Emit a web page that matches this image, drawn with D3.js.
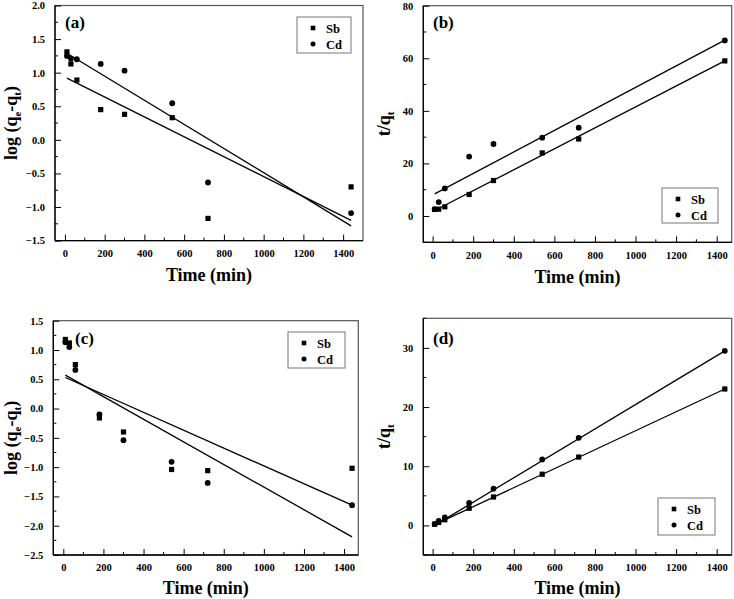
<!DOCTYPE html>
<html>
<head>
<meta charset="utf-8">
<script src="https://cdn.jsdelivr.net/npm/d3@7"></script>
<style>
  html, body { margin: 0; padding: 0; background: #fff; }
  svg { display: block; font-family: "Liberation Serif", "Times New Roman", "DejaVu Serif", serif; font-weight: bold; }
</style>
</head>
<body>
<svg id="chart" width="734" height="599"></svg>
<script>
// ---------- data ----------
const times = [10, 30, 60, 180, 300, 540, 720, 1440];
const seriesNames = ["Sb", "Cd"];

// (a) pseudo-first-order, log(qe-qt)
const aSb = [1.31, 1.13, 0.89, 0.45, 0.38, 0.33, -1.17, -0.70];
const aCd = [1.25, 1.21, 1.20, 1.13, 1.03, 0.545, -0.635, -1.09];
const aFitSb = [0.92, -1.20];   // fitted values at t=10 and t=1440
const aFitCd = [1.29, -1.28];

// (b) pseudo-second-order, t/qt
const bSb = [2.5, 2.6, 3.5, 8.2, 13.5, 24.0, 29.3, 59.0];
const bCd = [2.6, 5.3, 10.5, 22.6, 27.4, 29.8, 33.6, 66.8];
const bFitSb = [2.1, 59.0];
const bFitCd = [8.4, 66.9];

// (c) pseudo-first-order, log(qe-qt)
const cSb = [1.18, 1.12, 0.75, -0.16, -0.40, -1.04, -1.06, -1.02];
const cCd = [1.13, 1.05, 0.66, -0.10, -0.54, -0.91, -1.27, -1.65];
const cFitSb = [0.53, -1.65];
const cFitCd = [0.57, -2.19];

// (d) pseudo-second-order, t/qt
const dSb = [0.2, 0.5, 0.95, 2.9, 4.8, 8.65, 11.55, 23.05];
const dCd = [0.25, 0.75, 1.35, 3.8, 6.2, 11.15, 14.8, 29.5];
const dFitSb = [0.12, 23.05];
const dFitCd = [0.0, 29.5];

const xTicks = [0, 200, 400, 600, 800, 1000, 1200, 1400];
const fitTimes = [10, 1440];

const panels = [
  { label: "(a)", rect: [55, 5.5, 363, 240.6], xDom: [-50, 1500], yDom: [-1.5, 2.0],
    yTicks: [-1.5, -1.0, -0.5, 0.0, 0.5, 1.0, 1.5, 2.0], yMinor: 0.25, yFmt: ".1f",
    sb: aSb, cd: aCd, fitSb: aFitSb, fitCd: aFitCd, ytitle: "log",
    labelPos: [65, 28], legend: [297, 17, 54, 36], xTitleY: 281, yTitleX: 17 },
  { label: "(b)", rect: [423.3, 5.7, 731.7, 242.3], xDom: [-46, 1474], yDom: [-10, 80],
    yTicks: [0, 20, 40, 60, 80], yMinor: 10, yFmt: "d",
    sb: bSb, cd: bCd, fitSb: bFitSb, fitCd: bFitCd, ytitle: "t",
    labelPos: [433, 28], legend: [662, 188, 56, 35], xTitleY: 283, yTitleX: 390 },
  { label: "(c)", rect: [53.3, 320.7, 358.3, 555], xDom: [-50, 1471], yDom: [-2.5, 1.5],
    yTicks: [-2.5, -2.0, -1.5, -1.0, -0.5, 0.0, 0.5, 1.0, 1.5], yMinor: 0.25, yFmt: ".1f",
    sb: cSb, cd: cCd, fitSb: cFitSb, fitCd: cFitCd, ytitle: "log",
    labelPos: [75, 344], legend: [288, 332, 57, 36], xTitleY: 594, yTitleX: 17 },
  { label: "(d)", rect: [423.3, 318.3, 731.7, 555], xDom: [-46, 1474], yDom: [-5, 35],
    yTicks: [0, 10, 20, 30], yMinor: 5, yFmt: "d",
    sb: dSb, cd: dCd, fitSb: dFitSb, fitCd: dFitCd, ytitle: "t",
    labelPos: [433, 344], legend: [658, 498, 57, 37], xTitleY: 594, yTitleX: 390 }
];

const FONT = "'Liberation Serif', 'Times New Roman', 'DejaVu Serif', serif";
const svg = d3.select("#chart");

panels.forEach(p => {
  const [x0, y0, x1, y1] = p.rect;
  const x = d3.scaleLinear().domain(p.xDom).range([x0, x1]);
  const y = d3.scaleLinear().domain(p.yDom).range([y1, y0]);
  const g = svg.append("g").attr("font-family", FONT).attr("font-weight", "bold");

  // frame (top/right grey)
  g.append("rect").attr("x", x0).attr("y", y0).attr("width", x1 - x0).attr("height", y1 - y0)
    .attr("fill", "none").attr("stroke", "#555").attr("stroke-width", 1.2);

  // minor ticks
  const xMinor = d3.range(100, 1500, 200);
  g.append("g").selectAll("line").data(xMinor).join("line")
    .attr("x1", d => x(d)).attr("x2", d => x(d)).attr("y1", y1).attr("y2", y1 - 3)
    .attr("stroke", "#000").attr("stroke-width", 1);
  const yMinorVals = d3.range(p.yDom[0], p.yDom[1] + 1e-9, p.yMinor)
    .filter(v => !p.yTicks.some(t => Math.abs(t - v) < 1e-9));
  g.append("g").selectAll("line").data(yMinorVals).join("line")
    .attr("x1", x0).attr("x2", x0 + 3).attr("y1", d => y(d)).attr("y2", d => y(d))
    .attr("stroke", "#000").attr("stroke-width", 1);

  // axes
  const xAxis = d3.axisBottom(x).tickValues(xTicks).tickFormat(d3.format("d"))
    .tickSizeInner(-6).tickSizeOuter(0).tickPadding(9);
  const gx = g.append("g").attr("transform", `translate(0,${y1})`).call(xAxis);
  const yAxis = d3.axisLeft(y).tickValues(p.yTicks).tickFormat(d3.format(p.yFmt))
    .tickSizeInner(-6).tickSizeOuter(0).tickPadding(10);
  const gy = g.append("g").attr("transform", `translate(${x0},0)`).call(yAxis);
  [gx, gy].forEach(a => {
    a.attr("font-family", FONT).attr("font-size", 10.5);
    a.select(".domain").attr("stroke", "#000").attr("stroke-width", 1.3);
    a.selectAll(".tick line").attr("stroke", "#000").attr("stroke-width", 1);
    a.selectAll("text").attr("font-family", FONT)
      .attr("font-weight", "bold").attr("font-size", 10.5).attr("fill", "#000");
  });
  gx.select(".domain").attr("d", `M${x0},0H${x1}`);
  gy.select(".domain").attr("d", `M0,${y0}V${y1}`);

  // fit lines
  const line = d3.line().x(d => x(d[0])).y(d => y(d[1]));
  [p.fitSb, p.fitCd].forEach(f => {
    g.append("path").datum(fitTimes.map((t, i) => [t, f[i]]))
      .attr("d", line).attr("fill", "none").attr("stroke", "#000").attr("stroke-width", 1.3);
  });

  // points
  g.append("g").selectAll("rect").data(times.map((t, i) => [t, p.sb[i]])).join("rect")
    .attr("x", d => x(d[0]) - 2.6).attr("y", d => y(d[1]) - 2.6)
    .attr("width", 5.2).attr("height", 5.2).attr("fill", "#000");
  g.append("g").selectAll("circle").data(times.map((t, i) => [t, p.cd[i]])).join("circle")
    .attr("cx", d => x(d[0])).attr("cy", d => y(d[1])).attr("r", 2.9).attr("fill", "#000");

  // panel label
  g.append("text").attr("x", p.labelPos[0]).attr("y", p.labelPos[1])
    .attr("font-size", 17).attr("fill", "#000").text(p.label);

  // legend
  const [lx, ly, lw, lh] = p.legend;
  g.append("rect").attr("x", lx).attr("y", ly).attr("width", lw).attr("height", lh)
    .attr("fill", "#fff").attr("stroke", "#777").attr("stroke-width", 1);
  seriesNames.forEach((name, i) => {
    const cy = ly + 11 + i * 16;
    if (i === 0) {
      g.append("rect").attr("x", lx + 16 - 2.3).attr("y", cy - 2.3).attr("width", 4.6).attr("height", 4.6).attr("fill", "#000");
    } else {
      g.append("circle").attr("cx", lx + 16).attr("cy", cy).attr("r", 2.5).attr("fill", "#000");
    }
    g.append("text").attr("x", lx + 29).attr("y", cy + 4.5).attr("font-size", 12.5)
      .attr("fill", "#000").text(name);
  });

  // x title
  g.append("text").attr("x", (x0 + x1) / 2).attr("y", p.xTitleY).attr("text-anchor", "middle")
    .attr("font-size", 18).attr("fill", "#000").text("Time (min)");

  // y title
  const cyT = (y0 + y1) / 2;
  const yt = g.append("text").attr("transform", `translate(${p.yTitleX},${cyT}) rotate(-90)`)
    .attr("text-anchor", "middle").attr("font-size", 18).attr("fill", "#000");
  if (p.ytitle === "log") {
    yt.append("tspan").text("log (q");
    yt.append("tspan").attr("font-size", 11).attr("dy", 4).text("e");
    yt.append("tspan").attr("dy", -4).text("-q");
    yt.append("tspan").attr("font-size", 11).attr("dy", 4).text("t");
    yt.append("tspan").attr("dy", -4).text(")");
  } else {
    yt.append("tspan").text("t/q");
    yt.append("tspan").attr("font-size", 11).attr("dy", 4).text("t");
  }
});
</script>
</body>
</html>
